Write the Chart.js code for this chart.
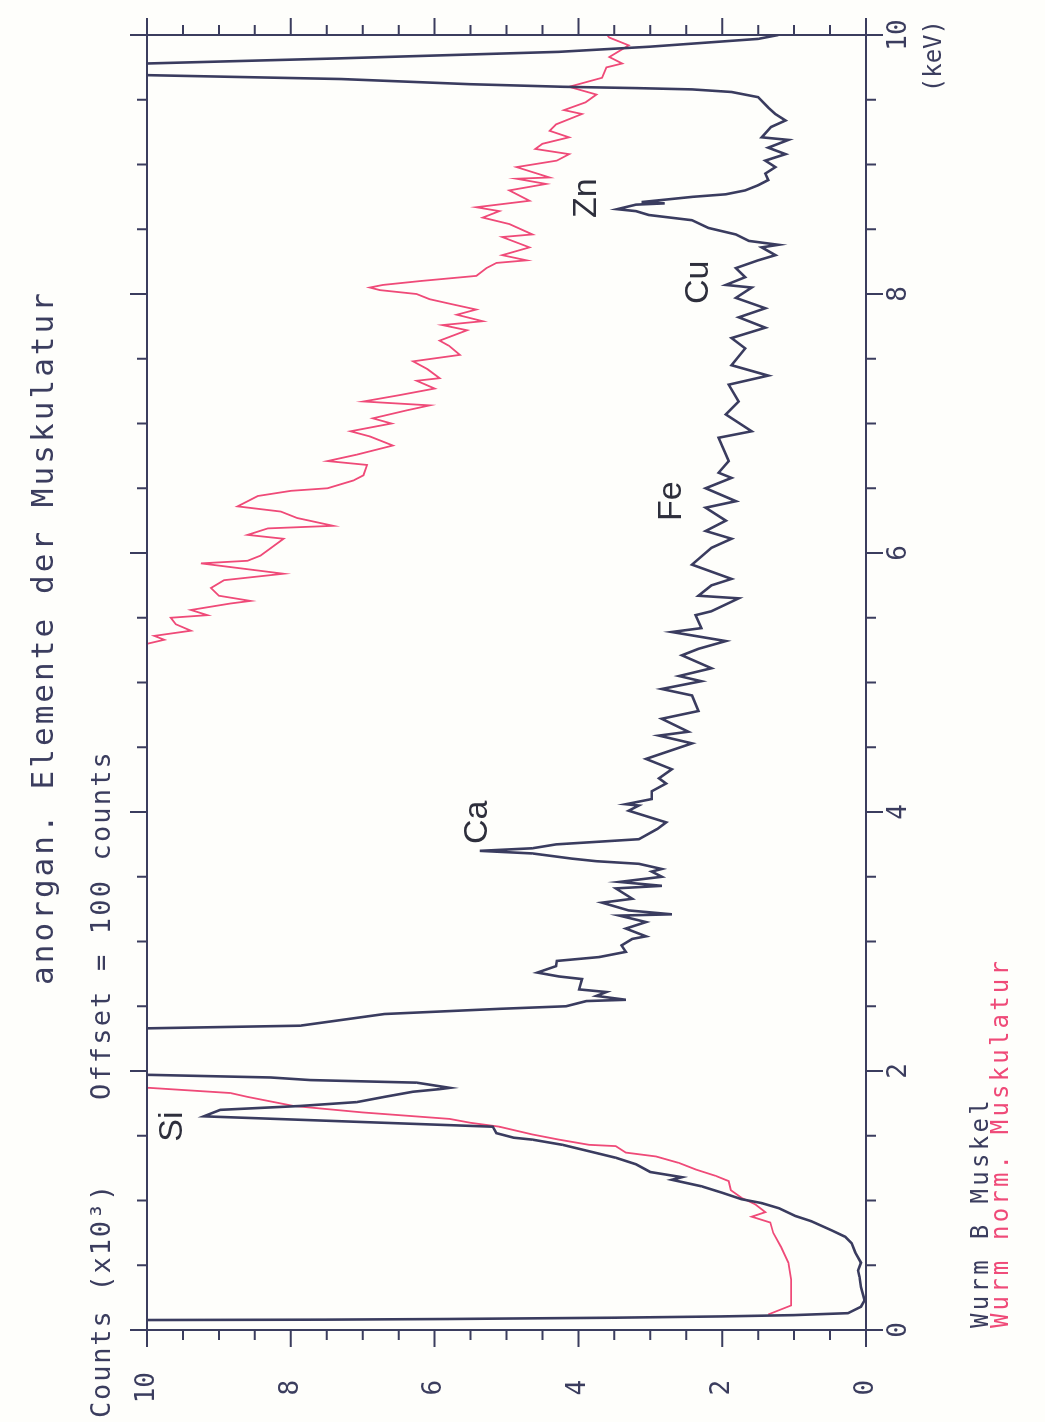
<!DOCTYPE html>
<html>
<head>
<meta charset="utf-8">
<script src="https://cdn.jsdelivr.net/npm/chart.js@4.4.1/dist/chart.umd.min.js"></script>
<style>
html, body { margin: 0; padding: 0; background: #fefefb; }
#page { position: relative; width: 1045px; height: 1422px; overflow: hidden; }
/* the plot is drawn upright and then turned a quarter to the left */
#rot { position: absolute; left: 0; top: 0; width: 1422px; height: 1045px;
       transform-origin: 0 0; transform: translate(0, 1422px) rotate(-90deg); }
</style>
</head>
<body>
<div id="page"><div id="rot"><canvas id="spectrum" width="1422" height="1045"></canvas></div></div>
<script>
// Wurm B Muskel (dark trace), counts x10^3 against energy in keV
var darkKeV = [0.05, 0.077, 0.08, 0.085, 0.095, 0.105, 0.115, 0.13, 0.18, 0.23, 0.33, 0.41, 0.46, 0.52, 0.60, 0.67, 0.72, 0.77, 0.84, 0.88,
  0.94, 0.98, 1.01, 1.06, 1.11, 1.16, 1.18, 1.22, 1.28, 1.33, 1.38, 1.43, 1.47, 1.485, 1.52, 1.57, 1.61, 1.65, 1.70, 1.73,
  1.76, 1.80, 1.84, 1.86, 1.87, 1.91, 1.93, 1.95, 1.97, 2.0, 2.3, 2.33, 2.35, 2.44, 2.48, 2.50, 2.54, 2.55, 2.58, 2.61,
  2.63, 2.71, 2.73, 2.76, 2.81, 2.85, 2.88, 2.92, 2.97, 3.02, 3.04, 3.10, 3.15, 3.20, 3.21, 3.24, 3.30, 3.33, 3.41, 3.43,
  3.46, 3.50, 3.54, 3.56, 3.60, 3.62, 3.64, 3.68, 3.70, 3.72, 3.75, 3.79, 3.82, 3.87, 3.92, 4.01, 4.05, 4.06, 4.10, 4.16,
  4.22, 4.26, 4.33, 4.41, 4.53, 4.59, 4.62, 4.72, 4.78, 4.90, 4.95, 5.01, 5.05, 5.11, 5.21, 5.26, 5.32, 5.39, 5.42, 5.52,
  5.55, 5.65, 5.67, 5.75, 5.80, 5.91, 6.04, 6.11, 6.17, 6.25, 6.35, 6.40, 6.50, 6.58, 6.62, 6.71, 6.89, 6.94, 7.07, 7.17,
  7.30, 7.37, 7.45, 7.58, 7.66, 7.74, 7.82, 7.89, 7.97, 8.05, 8.07, 8.13, 8.20, 8.26, 8.30, 8.36, 8.38, 8.41, 8.46, 8.51,
  8.57, 8.61, 8.64, 8.655, 8.69, 8.70, 8.71, 8.75, 8.77, 8.80, 8.84, 8.88, 8.93, 8.98, 9.03, 9.08, 9.13, 9.19, 9.21, 9.29,
  9.34, 9.39, 9.44, 9.52, 9.56, 9.58, 9.59, 9.60, 9.62, 9.66, 9.69, 9.70, 9.76, 9.78, 9.82, 9.87, 9.91, 9.97, 10.0];
var darkCounts = [15, 10, 7.5, 5.8, 3.5, 2.0, 1.0, 0.25, 0.07, 0.02, 0.07, 0.09, 0.11, 0.07, 0.15, 0.20, 0.29, 0.48, 0.76, 0.98,
  1.21, 1.45, 1.73, 2.0, 2.29, 2.7, 2.56, 3.0, 3.2, 3.48, 3.85, 4.22, 4.64, 4.9, 5.14, 5.19, 7.2, 9.21, 8.98, 7.87,
  7.08, 6.7, 6.3, 5.93, 5.79, 6.25, 7.73, 8.28, 9.94, 15, 15, 9.94, 7.87, 6.7, 5.1, 4.17, 3.89, 3.34, 3.75, 3.61,
  3.99, 3.95, 4.27, 4.57, 4.31, 4.3, 3.71, 3.34, 3.4, 3.25, 3.06, 3.34, 3.06, 3.43, 2.70, 3.3, 3.67, 3.25, 3.48, 2.84,
  3.43, 2.84, 2.98, 2.84, 3.16, 3.75, 4.09, 4.64, 5.37, 4.64, 4.31, 3.16, 3.06, 2.9, 2.78, 3.3, 3.16, 3.34, 2.98, 2.98,
  2.78, 2.88, 2.7, 3.06, 2.42, 2.88, 2.47, 2.84, 2.33, 2.42, 2.84, 2.29, 2.6, 2.15, 2.56, 2.33, 1.95, 2.70, 2.29, 2.37,
  2.15, 1.77, 2.33, 2.15, 1.87, 2.42, 2.15, 1.87, 2.23, 1.95, 2.23, 1.81, 2.23, 1.87, 2.05, 1.91, 2.05, 1.59, 1.95, 1.77,
  1.91, 1.36, 1.87, 1.68, 1.87, 1.40, 1.77, 1.40, 1.81, 1.59, 1.95, 1.68, 1.81, 1.50, 1.26, 1.45, 1.22, 1.63, 1.81, 2.19,
  2.42, 3.02, 3.2, 3.46, 3.2, 2.8, 3.12, 2.42, 1.95, 1.68, 1.50, 1.36, 1.40, 1.26, 1.40, 1.12, 1.36, 1.08, 1.45, 1.32,
  1.12, 1.26, 1.36, 1.50, 1.87, 2.42, 3.2, 4.2, 5.5, 7.3, 10, 15, 15, 10, 7.3, 4.27, 3.0, 1.5, 1.22];

// Wurm norm. Muskulatur (red trace)
var redKeV = [0.12, 0.19, 0.39, 0.52, 0.64, 0.75, 0.83, 0.875, 0.91, 0.97, 1.02, 1.08, 1.15, 1.19, 1.24, 1.29, 1.34, 1.37, 1.42, 1.43,
  1.47, 1.51, 1.57, 1.60, 1.63, 1.68, 1.73, 1.80, 1.83, 1.87, 1.89, 5.27, 5.30, 5.33, 5.36, 5.40, 5.45, 5.50, 5.52, 5.56,
  5.61, 5.63, 5.67, 5.73, 5.79, 5.84, 5.92, 5.94, 5.98, 6.11, 6.14, 6.19, 6.21, 6.27, 6.32, 6.36, 6.44, 6.48, 6.50, 6.56,
  6.60, 6.68, 6.71, 6.76, 6.83, 6.90, 6.94, 7.00, 7.04, 7.10, 7.14, 7.17, 7.22, 7.27, 7.33, 7.35, 7.42, 7.48, 7.53, 7.60,
  7.64, 7.72, 7.76, 7.79, 7.84, 7.88, 7.92, 7.96, 8.00, 8.03, 8.05, 8.07, 8.10, 8.14, 8.20, 8.24, 8.26, 8.30, 8.36, 8.44,
  8.46, 8.54, 8.59, 8.64, 8.67, 8.72, 8.80, 8.85, 8.89, 8.90, 8.98, 9.03, 9.08, 9.12, 9.16, 9.21, 9.26, 9.31, 9.39, 9.42,
  9.48, 9.54, 9.60, 9.67, 9.75, 9.78, 9.83, 9.92, 9.98, 10.0];
var redCounts = [1.36, 1.04, 1.04, 1.08, 1.18, 1.29, 1.33, 1.59, 1.40, 1.54, 1.73, 1.88, 1.91, 2.09, 2.37, 2.6, 2.92, 3.34, 3.48, 3.85,
  4.27, 4.64, 5.1, 5.5, 5.79, 7.0, 7.96, 8.6, 8.84, 9.97, 15, 15, 9.99, 9.76, 9.9, 9.39, 9.6, 9.67, 9.16, 9.39,
  8.84, 8.56, 9.0, 9.11, 8.93, 8.10, 9.25, 8.6, 8.42, 8.10, 8.6, 8.32, 7.41, 7.91, 8.14, 8.74, 8.46, 8.0, 7.49, 7.13,
  6.99, 6.94, 7.49, 7.08, 6.58, 6.9, 7.17, 6.6, 6.86, 6.4, 6.07, 6.99, 6.48, 6.0, 6.25, 5.93, 6.1, 6.3, 5.65, 5.8,
  5.93, 5.55, 5.89, 5.33, 5.69, 5.42, 5.75, 6.07, 6.25, 6.76, 6.9, 6.72, 6.2, 5.42, 5.28, 5.14, 4.72, 5.06, 4.68, 5.06,
  4.64, 4.96, 5.33, 5.1, 5.42, 4.68, 4.96, 4.45, 4.86, 4.40, 4.86, 4.3, 4.13, 4.6, 4.5, 4.13, 4.4, 4.31, 3.95, 4.2,
  3.9, 3.75, 4.13, 3.67, 3.61, 3.39, 3.57, 3.3, 3.57, 3.6];

// peak labels
var peakNames = ['Si', 'Ca', 'Fe', 'Cu', 'Zn'];
var peakKeV = [1.57, 3.92, 6.40, 8.09, 8.74];
var peakCounts = [9.64, 5.40, 2.71, 2.33, 3.89];

var axisColor = '#3b3d5e';
var darkColor = '#3a3c5f';
var redColor = '#ef4a78';
var mono = '"DejaVu Sans Mono", monospace';

function toPoints(xs, ys) {
  var pts = [];
  for (var i = 0; i < xs.length; i++) pts.push({x: xs[i], y: ys[i]});
  return pts;
}

// text with its width stretched to fit, like the plotter font
function spacedText(ctx, text, x, y, width) {
  ctx.letterSpacing = '0px';
  var w = ctx.measureText(text).width;
  ctx.letterSpacing = ((width - w) / text.length) + 'px';
  ctx.fillText(text, x, y);
  ctx.letterSpacing = '0px';
}

var frameTicks = {
  id: 'frameTicks',
  afterDatasetsDraw: function(chart) {
    var ctx = chart.ctx, a = chart.chartArea;
    var xs = chart.scales.x, ys = chart.scales.y;
    ctx.save();
    ctx.strokeStyle = axisColor;
    ctx.lineWidth = 2;
    ctx.strokeRect(a.left, a.top, a.right - a.left, a.bottom - a.top);
    ctx.beginPath();
    for (var v = 0; v <= 10.001; v += 0.5) {
      var len = (Math.abs(v / 2 - Math.round(v / 2)) < 0.01) ? 17 : 10;
      var px = xs.getPixelForValue(v);
      ctx.moveTo(px, a.bottom); ctx.lineTo(px, a.bottom + len);
      ctx.moveTo(px, a.top); ctx.lineTo(px, a.top - len);
      var py = ys.getPixelForValue(v);
      ctx.moveTo(a.left, py); ctx.lineTo(a.left - len, py);
      ctx.moveTo(a.right, py); ctx.lineTo(a.right + len, py);
    }
    ctx.stroke();

    // peak names
    ctx.fillStyle = '#2e2f3c';
    ctx.font = '34px "Liberation Sans", Arial, sans-serif';
    ctx.textAlign = 'center';
    ctx.textBaseline = 'middle';
    for (var i = 0; i < peakNames.length; i++) {
      ctx.fillText(peakNames[i], xs.getPixelForValue(peakKeV[i]), ys.getPixelForValue(peakCounts[i]));
    }

    // headings and legend
    ctx.textAlign = 'left';
    ctx.fillStyle = axisColor;
    ctx.font = '31px ' + mono;
    spacedText(ctx, 'anorgan. Elemente der Muskulatur', 437, 45, 695);
    ctx.font = '27px ' + mono;
    spacedText(ctx, 'Counts (x10\u00b3)', 4, 103, 235);
    spacedText(ctx, 'Offset = 100 counts', 322, 103, 350);
    ctx.font = '24px ' + mono;
    ctx.textAlign = 'right';
    ctx.fillText('(keV)', 1402, 935);
    ctx.textAlign = 'left';
    spacedText(ctx, 'Wurm B Muskel', 94, 982, 231);
    ctx.fillStyle = redColor;
    spacedText(ctx, 'Wurm norm. Muskulatur', 94, 1002, 370);
    ctx.restore();
  }
};

var ctx = document.getElementById('spectrum').getContext('2d');
var myChart = new Chart(ctx, {
  type: 'line',
  data: {
    datasets: [{
      label: 'Wurm B Muskel',
      data: toPoints(darkKeV, darkCounts),
      borderColor: darkColor,
      borderWidth: 2.6,
      pointRadius: 0,
      tension: 0,
      clip: 1
    }, {
      label: 'Wurm norm. Muskulatur',
      data: toPoints(redKeV, redCounts),
      borderColor: redColor,
      borderWidth: 1.8,
      pointRadius: 0,
      tension: 0,
      clip: 1
    }]
  },
  options: {
    responsive: false,
    animation: false,
    events: [],
    layout: { padding: { top: 147, right: 35, left: 0, bottom: 0 } },
    plugins: { legend: { display: false }, tooltip: { enabled: false } },
    scales: {
      x: {
        type: 'linear', min: 0, max: 10,
        grid: { display: false, drawTicks: false },
        border: { display: false },
        ticks: { stepSize: 2, padding: 18, color: axisColor, font: { family: mono, size: 26 } },
        afterFit: function(scale) { scale.height = 179; }
      },
      y: {
        type: 'linear', min: 0, max: 10,
        grid: { display: false, drawTicks: false },
        border: { display: false },
        ticks: { stepSize: 2, padding: 42, crossAlign: 'center', color: axisColor, font: { family: mono, size: 26 } },
        afterFit: function(scale) { scale.width = 92; }
      }
    }
  },
  plugins: [frameTicks]
});
</script>
</body>
</html>
